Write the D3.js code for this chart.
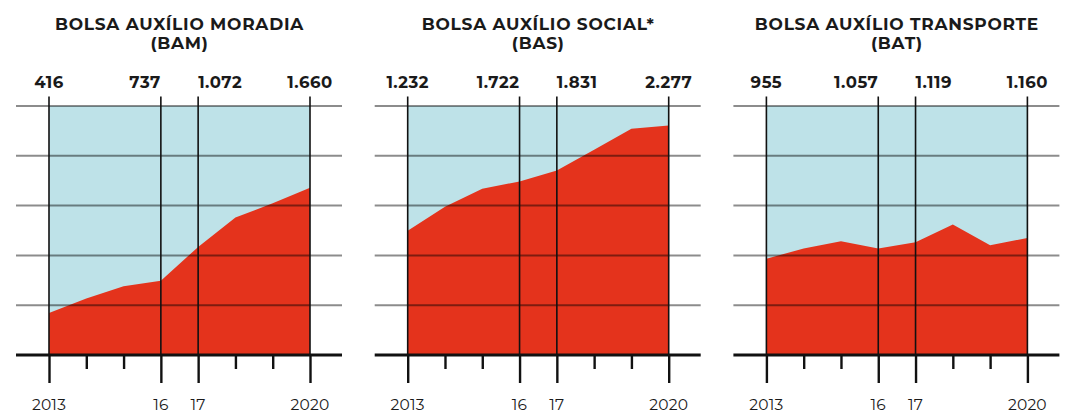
<!DOCTYPE html>
<html lang="pt-BR">
<head>
<meta charset="utf-8">
<script src="https://cdn.jsdelivr.net/npm/d3@7"></script>
<style>
  html, body { margin: 0; padding: 0; background: #ffffff; }
  svg { display: block; }
  text { font-family: Montserrat, "Open Sans", "DejaVu Sans", sans-serif; fill: #1a1a1a; }
  .title { font-weight: 700; font-size: 17px; letter-spacing: 0.75px; }
  .value { font-weight: 700; font-size: 16.5px; letter-spacing: 0.5px; }
  .year { font-weight: 400; font-size: 15.5px; letter-spacing: 0.2px; }
</style>
</head>
<body>
<svg id="chart" width="1066" height="413"></svg>
<script>
// Beneficiários por ano, 2013–2020
const years = [2013, 2014, 2015, 2016, 2017, 2018, 2019, 2020];
const bamValues = [416, 561, 683, 737, 1072, 1363, 1505, 1660];
const basValues = [1232, 1470, 1650, 1722, 1831, 2036, 2245, 2277];
const batValues = [955, 1056, 1129, 1057, 1119, 1294, 1089, 1160];

const panelTitles = [
  ["BOLSA AUXÍLIO MORADIA", "(BAM)"],
  ["BOLSA AUXÍLIO SOCIAL*", "(BAS)"],
  ["BOLSA AUXÍLIO TRANSPORTE", "(BAT)"]
];

// Years that get a full-height line, a long tick and labels
const keyYears = [2013, 2016, 2017, 2020];
const keyYearLabels = ["2013", "16", "17", "2020"];
// How each value label sits against its line
const valueAnchors = ["middle", "end", "start", "middle"];

const series = [bamValues, basValues, batValues];

// Shared vertical scale; the grid splits it into five bands
const yMax = 2470;
const gridCount = 5;

const ptBR = d3.formatLocale({ decimal: ",", thousands: ".", grouping: [3], currency: ["R$", ""] });
const fmt = ptBR.format(",d");

const svg = d3.select("#chart");

const panel = { x0: 49, step: 358.7, width: 261, padLeft: 33, padRight: 32 };
const y = d3.scaleLinear().domain([0, yMax]).range([355, 106]);
const x = d3.scaleLinear().domain([years[0], years[years.length - 1]]).range([0, panel.width]);

const gridValues = d3.range(1, gridCount + 1).map(i => yMax * i / gridCount);

series.forEach((values, i) => {
  const g = svg.append("g").attr("transform", `translate(${panel.x0 + i * panel.step},0)`);
  const data = years.map((yr, j) => ({ year: yr, value: values[j] }));

  // background band
  g.append("rect")
    .attr("x", x(years[0]))
    .attr("y", y(yMax))
    .attr("width", x(years[years.length - 1]) - x(years[0]))
    .attr("height", y(0) - y(yMax))
    .attr("fill", "#bee2e8");

  // red area
  const area = d3.area()
    .x(d => x(d.year))
    .y0(y(0))
    .y1(d => y(d.value));
  g.append("path")
    .datum(data)
    .attr("d", area)
    .attr("fill", "#e4331c");

  // horizontal grid
  g.append("g")
    .selectAll("line")
    .data(gridValues)
    .join("line")
    .attr("x1", x(years[0]) - panel.padLeft)
    .attr("x2", x(years[years.length - 1]) + panel.padRight)
    .attr("y1", d => y(d))
    .attr("y2", d => y(d))
    .attr("stroke", "#000")
    .attr("stroke-opacity", 0.45)
    .attr("stroke-width", 2);

  // vertical lines at key years
  g.append("g")
    .selectAll("line")
    .data(keyYears)
    .join("line")
    .attr("x1", d => x(d))
    .attr("x2", d => x(d))
    .attr("y1", y(yMax) - 9.5)
    .attr("y2", y(0))
    .attr("stroke", "#111")
    .attr("stroke-width", 1.6);

  // x axis: baseline plus long/short ticks
  const axis = d3.axisBottom(x)
    .tickValues(years)
    .tickFormat("")
    .tickSizeOuter(0)
    .tickSize(14);
  const ax = g.append("g").attr("transform", `translate(0,${y(0)})`).call(axis);
  ax.select(".domain").remove();
  ax.selectAll(".tick line")
    .attr("stroke", "#111")
    .attr("stroke-width", 2.4)
    .attr("y2", d => keyYears.includes(d) ? 28 : 14);
  g.append("line")
    .attr("x1", x(years[0]) - panel.padLeft)
    .attr("x2", x(years[years.length - 1]) + panel.padRight)
    .attr("y1", y(0))
    .attr("y2", y(0))
    .attr("stroke", "#111")
    .attr("stroke-width", 3);

  // year labels
  g.append("g")
    .selectAll("text")
    .data(keyYears)
    .join("text")
    .attr("class", "year")
    .attr("x", d => x(d))
    .attr("y", 410)
    .attr("text-anchor", "middle")
    .text((d, j) => keyYearLabels[j]);

  // value labels above key years
  g.append("g")
    .selectAll("text")
    .data(keyYears)
    .join("text")
    .attr("class", "value")
    .attr("x", d => x(d))
    .attr("y", 88)
    .attr("text-anchor", (d, j) => valueAnchors[j])
    .text(d => fmt(values[years.indexOf(d)]));

  // title
  const cx = panel.width / 2;
  g.append("g")
    .selectAll("text")
    .data(panelTitles[i])
    .join("text")
    .attr("class", "title")
    .attr("x", cx)
    .attr("y", (d, j) => 30 + j * 18.5)
    .attr("text-anchor", "middle")
    .text(d => d);
});
</script>
</body>
</html>
